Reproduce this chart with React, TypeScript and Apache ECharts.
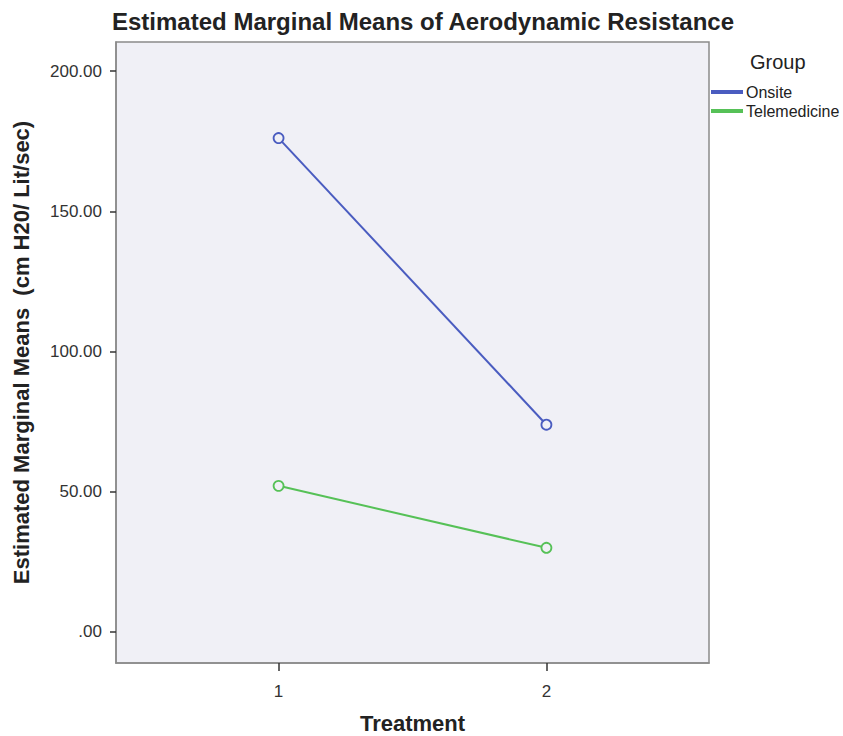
import React, { useEffect, useRef } from "react";
import * as echarts from "echarts";

const treatments = [1, 2];
const onsite = [176.1, 73.9];
const telemedicine = [52.1, 30.0];
const yTicks = [0, 50, 100, 150, 200];
const seriesNames = ["Onsite", "Telemedicine"];

export default function App() {
  const ref = useRef<HTMLDivElement>(null);
  useEffect(() => {
    if (!ref.current) return;
    const chart = echarts.init(ref.current, null, { renderer: "svg" });
    const font = "Liberation Sans, Arial, sans-serif";
    chart.setOption({
      animation: false,
      backgroundColor: "#ffffff",
      title: {
        text: "Estimated Marginal Means of Aerodynamic Resistance",
        left: 418,
        top: 4,
        textAlign: "center",
        textStyle: { fontFamily: font, fontSize: 24, fontWeight: "bold", color: "#222" },
      },
      graphic: [
        {
          type: "text",
          left: 750,
          top: 52,
          style: { text: "Group", font: `20px ${font}`, fill: "#222" },
        },
      ],
      legend: {
        orient: "vertical",
        left: 711,
        top: 84,
        padding: 0,
        itemWidth: 30,
        itemHeight: 2,
        itemGap: 3,
        icon: "rect",
        data: seriesNames,
        textStyle: { fontFamily: font, fontSize: 16, color: "#222", padding: [0, 0, 0, -1] },
      },
      grid: {
        left: 116,
        top: 42,
        right: 134,
        bottom: 73,
        outerBoundsMode: "none",
        show: true,
        backgroundColor: "#f0f0f6",
        borderColor: "#8a8a8a",
        borderWidth: 1.5,
      },
      xAxis: {
        type: "value",
        min: 0.393,
        max: 2.607,
        name: "Treatment",
        nameLocation: "middle",
        nameGap: 49,
        nameTextStyle: { fontFamily: font, fontSize: 22, fontWeight: "bold", color: "#222" },
        axisLine: { show: true, onZero: false, lineStyle: { color: "#8a8a8a", width: 1.5 } },
        axisTick: { show: true, length: 8, lineStyle: { color: "#333", width: 1.5 }, customValues: treatments },
        axisLabel: {
          customValues: treatments,
          margin: 20,
          fontFamily: font,
          fontSize: 17,
          color: "#333",
        },
        splitLine: { show: false },
      },
      yAxis: {
        type: "value",
        min: -11.07,
        max: 210.36,
        name: "Estimated Marginal Means  (cm H20/ Lit/sec)",
        nameLocation: "middle",
        nameGap: 84,
        nameTextStyle: { fontFamily: font, fontSize: 22, fontWeight: "bold", color: "#222" },
        axisLine: { show: true, onZero: false, lineStyle: { color: "#8a8a8a", width: 1.5 } },
        axisTick: { show: true, length: 6, lineStyle: { color: "#333", width: 1.5 }, customValues: yTicks },
        axisLabel: {
          customValues: yTicks,
          margin: 14,
          fontFamily: font,
          fontSize: 17,
          color: "#333",
          formatter: (v: number) => (v === 0 ? ".00" : v.toFixed(2)),
        },
        splitLine: { show: false },
      },
      series: [
        {
          name: seriesNames[0],
          type: "line",
          data: treatments.map((t, i) => [t, onsite[i]]),
          symbol: "circle",
          symbolSize: 10,
          lineStyle: { color: "#4a5cc0", width: 2 },
          itemStyle: { color: "#f0f0f6", borderColor: "#4a5cc0", borderWidth: 1.8 },
          color: "#4a5cc0",
        },
        {
          name: seriesNames[1],
          type: "line",
          data: treatments.map((t, i) => [t, telemedicine[i]]),
          symbol: "circle",
          symbolSize: 10,
          lineStyle: { color: "#56c157", width: 2 },
          itemStyle: { color: "#f0f0f6", borderColor: "#56c157", borderWidth: 1.8 },
          color: "#56c157",
        },
      ],
    });
    return () => chart.dispose();
  }, []);
  return <div ref={ref} style={{ width: 843, height: 736, position: "absolute", left: 0, top: 0 }} />;
}
